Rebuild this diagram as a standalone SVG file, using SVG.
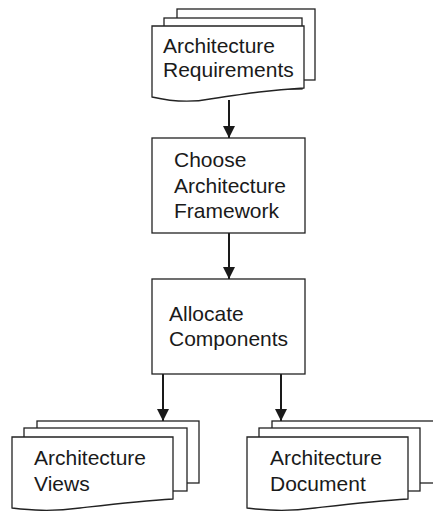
<svg xmlns="http://www.w3.org/2000/svg" width="433" height="511" viewBox="0 0 433 511">
<defs>
<style>
.s{fill:#fff;stroke:#222;stroke-width:1.3}
.t{font-family:"Liberation Sans",Arial,sans-serif;font-size:21px;fill:#1a1a1a}
.c{stroke:#1a1a1a;stroke-width:2;fill:none}
</style>
<marker id="ah" viewBox="0 0 12 12" refX="12" refY="6" markerWidth="12" markerHeight="12" markerUnits="userSpaceOnUse" orient="auto">
<path d="M0,0 L12,6 L0,12 z" fill="#1a1a1a"/>
</marker>
</defs>
<g id="connectors">
<line class="c" x1="229" y1="100" x2="229" y2="138" marker-end="url(#ah)"/>
<line class="c" x1="229" y1="233" x2="229" y2="279" marker-end="url(#ah)"/>
<line class="c" x1="163" y1="374" x2="163" y2="421" marker-end="url(#ah)"/>
<line class="c" x1="281" y1="374" x2="281" y2="421" marker-end="url(#ah)"/>
</g>
<g id="req">
<rect class="s" x="177" y="9" width="138" height="71"/>
<rect class="s" x="164" y="18" width="138" height="71"/>
<path class="s" d="M152,26 H304 V88 C270,90 250,93 210,99 C185,104 165,100 152,97 Z"/>
<text class="t" x="163" y="53">Architecture</text>
<text class="t" x="163" y="77">Requirements</text>
</g>
<g id="choose">
<rect class="s" x="152" y="138" width="153" height="95"/>
<text class="t" x="174" y="167">Choose</text>
<text class="t" x="174" y="193">Architecture</text>
<text class="t" x="174" y="218">Framework</text>
</g>
<g id="allocate">
<rect class="s" x="152" y="279" width="153" height="95"/>
<text class="t" x="169" y="321">Allocate</text>
<text class="t" x="169" y="346">Components</text>
</g>
<g id="views">
<rect class="s" x="37" y="421" width="162" height="62"/>
<rect class="s" x="24" y="428" width="163" height="63"/>
<path class="s" d="M12,437 H173 V499 C140,501 115,504 80,508 C50,512 30,510 12,508 Z"/>
<text class="t" x="34" y="465">Architecture</text>
<text class="t" x="34" y="491">Views</text>
</g>
<g id="document">
<rect class="s" x="272" y="421" width="170" height="62"/>
<rect class="s" x="259" y="428" width="161" height="63"/>
<path class="s" d="M247,437 H408 V499 C375,501 350,504 315,508 C285,512 265,510 247,508 Z"/>
<text class="t" x="270" y="465">Architecture</text>
<text class="t" x="270" y="491">Document</text>
</g>
</svg>
